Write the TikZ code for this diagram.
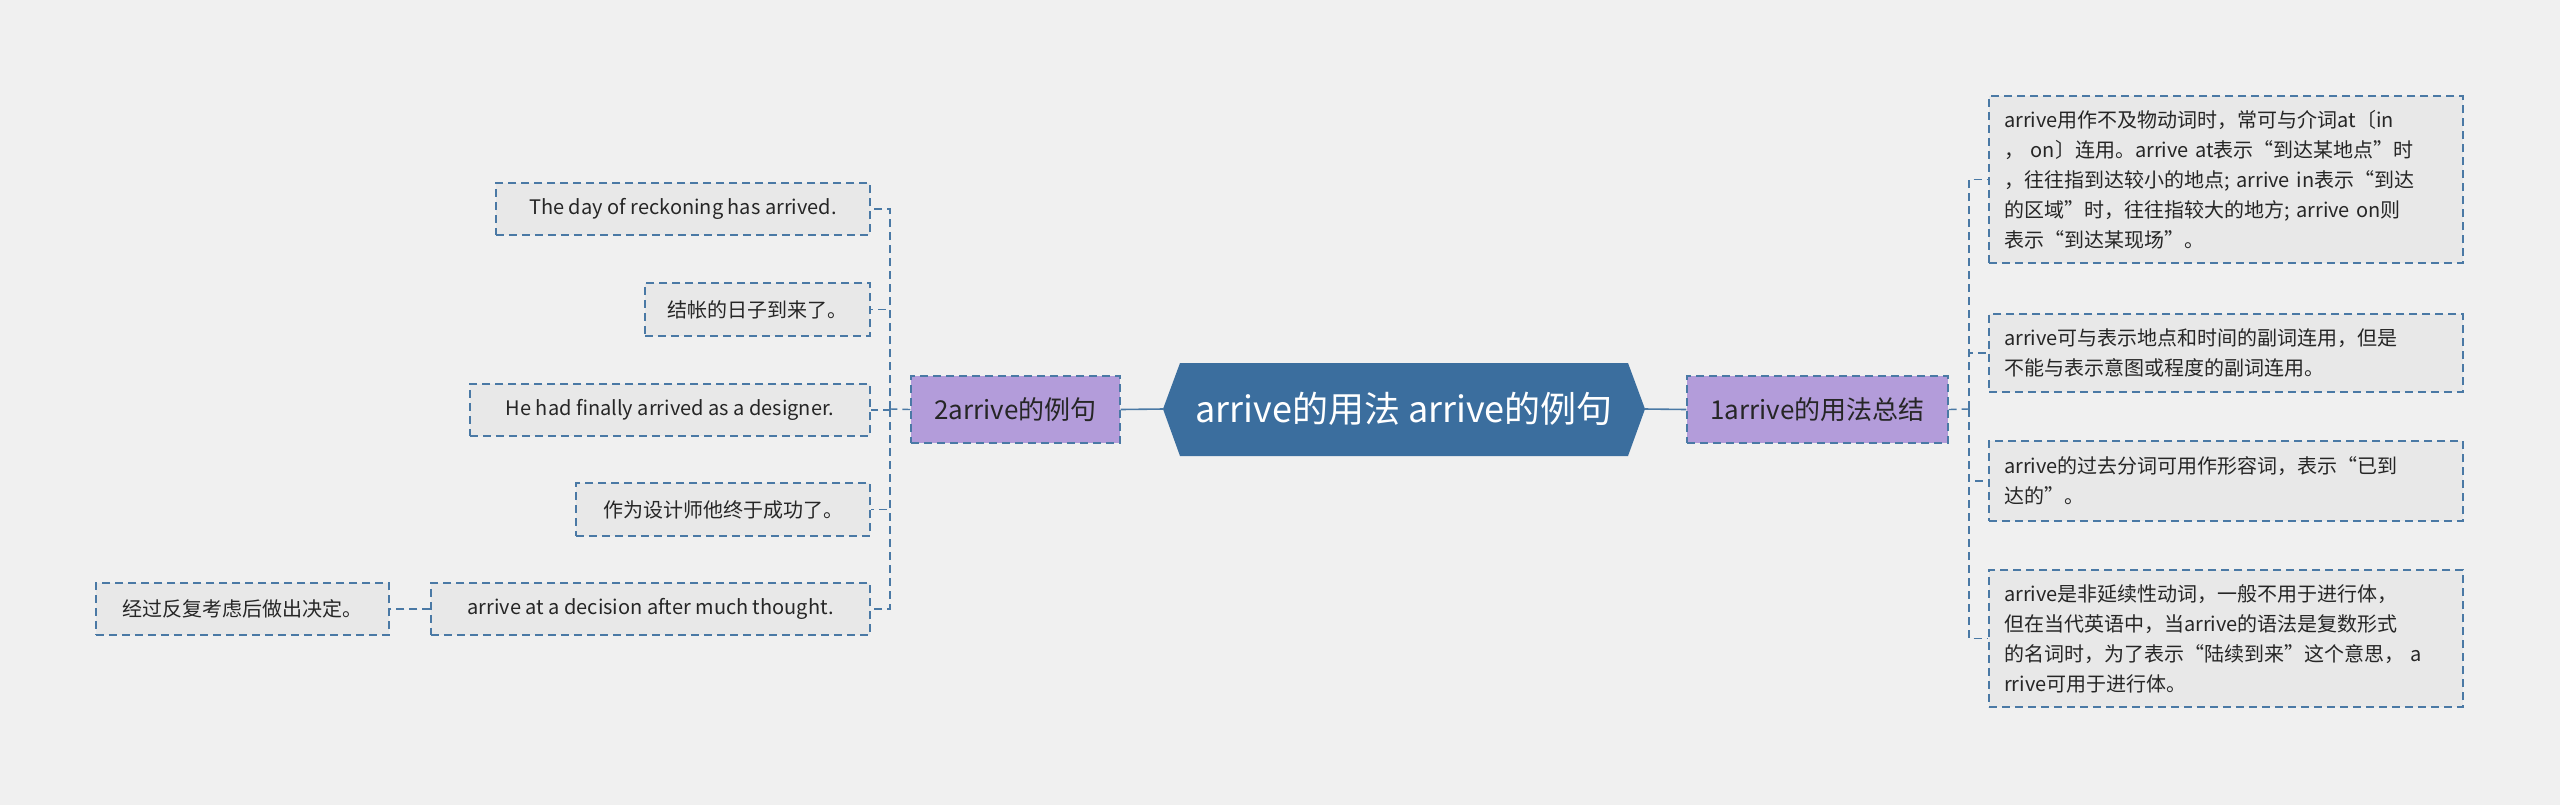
\documentclass[tikz,border=0pt]{standalone}
\usepackage{fontspec}
\setmainfont{Noto Sans CJK SC}
\begin{document}
\begin{tikzpicture}[x=0.5pt,y=-0.5pt,
  leaf/.style={draw=edge,dashed,dash pattern=on 4pt off 2.5pt,line width=0.6pt,fill=leafbg,inner sep=0pt,font=\fontsize{10}{15}\selectfont,text=black!85},
  branch/.style={draw=edge,dashed,dash pattern=on 4pt off 2.5pt,line width=0.6pt,fill=purp,inner sep=0pt,font=\fontsize{13}{16}\selectfont,text=black!85},
  conn/.style={draw=edge,line width=0.7pt,dashed,dash pattern=on 4pt off 2.5pt},
]
\definecolor{edge}{HTML}{4A79A5}
\definecolor{leafbg}{HTML}{E8E8E8}
\definecolor{purp}{HTML}{B39CDA}
\definecolor{mainbg}{HTML}{3B6E9E}
\fill[fill={rgb,255:red,240;green,240;blue,240}] (0,0) rectangle (2560,805);
% center
\fill[mainbg] (1163,409) -- (1180,363) -- (1628,363) -- (1645,409) -- (1628,456) -- (1180,456) -- cycle;
\node[text=white,font=\fontsize{18}{22}\selectfont] (c) at (1404,409) {arrive的用法 arrive的例句};
\coordinate (cL) at (1163,409);
\coordinate (cR) at (1645,409);
% branches
\node[branch,minimum width=130.5pt,minimum height=33.5pt] (r) at (1817.5,409.5) {1arrive的用法总结};
\node[branch,minimum width=104.5pt,minimum height=33.5pt] (l) at (1015.5,409.5) {2arrive的例句};
\draw[edge,line width=0.8pt] (cR) -- (r.west);
\draw[edge,line width=0.8pt] (cL) -- (l.east);
% right leaves
\node[leaf,minimum width=237pt,minimum height=83.5pt,text width=222pt,align=left] (r1) at (2226,179.5) {arrive用作不及物动词时，常可与介词at〔in\\，\ on〕连用。arrive at表示“到达某地点”时\\，往往指到达较小的地点; arrive in表示“到达\\的区域”时，往往指较大的地方; arrive on则\\表示“到达某现场”。};
\node[leaf,minimum width=237pt,minimum height=39pt,text width=222pt,align=left] (r2) at (2226,353) {arrive可与表示地点和时间的副词连用，但是\\不能与表示意图或程度的副词连用。};
\node[leaf,minimum width=237pt,minimum height=40pt,text width=222pt,align=left] (r3) at (2226,481) {arrive的过去分词可用作形容词，表示“已到\\达的”。};
\node[leaf,minimum width=237pt,minimum height=68.5pt,text width=222pt,align=left] (r4) at (2226,638.5) {arrive是非延续性动词，一般不用于进行体，\\但在当代英语中，当arrive的语法是复数形式\\的名词时，为了表示“陆续到来”这个意思，\ a\\rrive可用于进行体。};
\coordinate (rs) at (1969,409);
\draw[conn] (r.east) -- (rs);
\foreach \n in {r1,r2,r3,r4} \draw[conn] (rs) |- (\n.west);
% left leaves
\node[leaf,minimum width=187pt,minimum height=26pt] (a1) at (683,209) {The day of reckoning has arrived.};
\node[leaf,minimum width=112.5pt,minimum height=26.5pt] (a2) at (757.5,309.5) {结帐的日子到来了。};
\node[leaf,minimum width=200pt,minimum height=26pt] (a3) at (670,410) {He had finally arrived as a designer.};
\node[leaf,minimum width=147pt,minimum height=26.5pt] (a4) at (723,509.5) {作为设计师他终于成功了。};
\node[leaf,minimum width=219.5pt,minimum height=26pt] (a5) at (650.5,609) {arrive at a decision after much thought.};
\node[leaf,minimum width=146.5pt,minimum height=26pt] (a6) at (242.5,609) {经过反复考虑后做出决定。};
\coordinate (ls) at (890,409);
\draw[conn] (l.west) -- (ls);
\foreach \n in {a1,a2,a3,a4,a5} \draw[conn] (ls) |- (\n.east);
\draw[conn] (a5.west) -- (a6.east);
\end{tikzpicture}
\end{document}
